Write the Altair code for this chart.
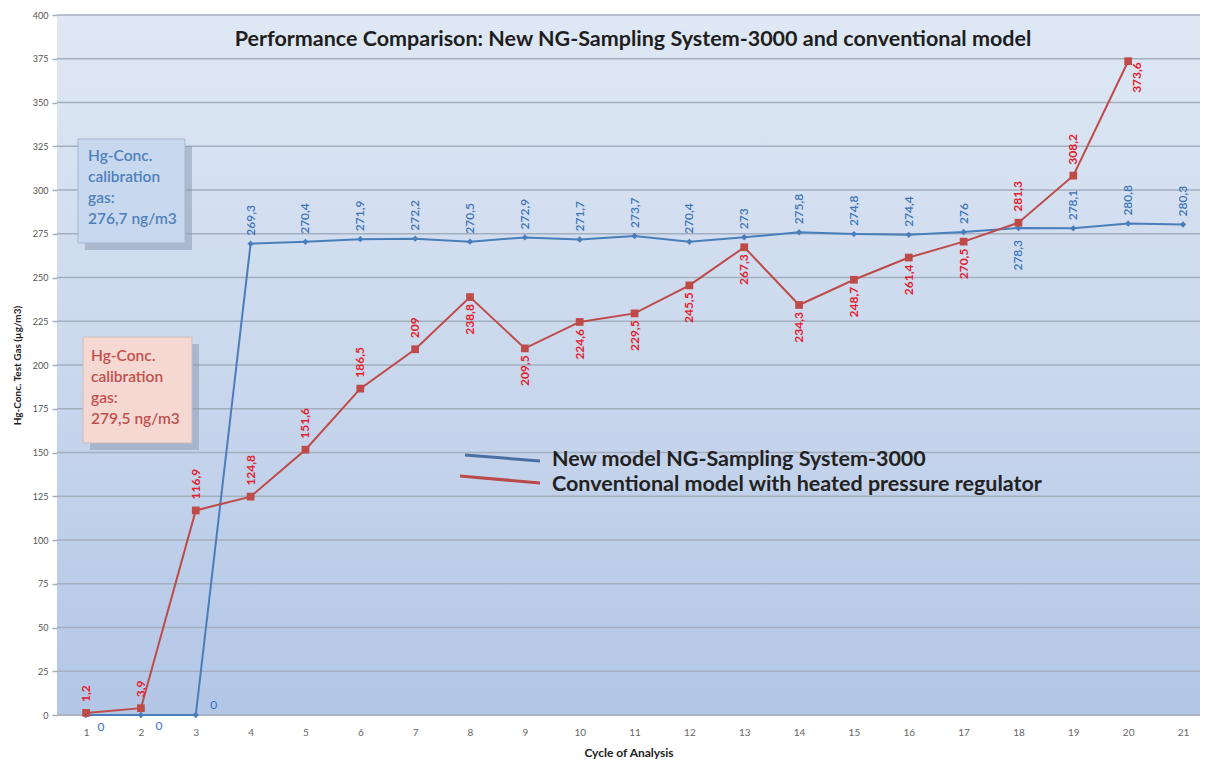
import altair as alt
import pandas as pd

cycles = list(range(1, 22))
new_model = [0, 0, 0, 269.3, 270.4, 271.9, 272.2, 270.5, 272.9, 271.7, 273.7,
             270.4, 273, 275.8, 274.8, 274.4, 276, 278.3, 278.1, 280.8, 280.3]
new_label_side = ["zero", "zero", "zero"] + ["above"] * 14 + ["below"] + ["above"] * 3

conv_cycles = list(range(1, 21))
conventional = [1.2, 3.9, 116.9, 124.8, 151.6, 186.5, 209, 238.8, 209.5, 224.6,
                229.5, 245.5, 267.3, 234.3, 248.7, 261.4, 270.5, 281.3, 308.2, 373.6]
conv_label_side = ["above"] * 7 + ["below"] * 10 + ["above"] * 2 + ["end"]

y_ticks = list(range(0, 401, 25))

title_text = "Performance Comparison: New NG-Sampling System-3000 and conventional model"
legend_new = "New model NG-Sampling System-3000"
legend_conv = "Conventional model with heated pressure regulator"
box_blue = "Hg-Conc.\ncalibration\ngas:\n276,7 ng/m3"
box_red = "Hg-Conc.\ncalibration\ngas:\n279,5 ng/m3"


def fmt(v):
    return f"{v:g}".replace(".", ",")


blue_df = pd.DataFrame({"cycle": cycles, "value": new_model,
                        "label": [fmt(v) for v in new_model], "side": new_label_side})
red_df = pd.DataFrame({"cycle": conv_cycles, "value": conventional,
                       "label": [fmt(v) for v in conventional], "side": conv_label_side})
grid_df = pd.DataFrame({"value": y_ticks})

W, H = 1143, 700
BLUE = "#4a7ebb"
RED = "#be4b48"
FONT = "Lato"

xs = alt.X("cycle:Q", scale=alt.Scale(domain=[0.47, 21.31], nice=False, zero=False),
           axis=alt.Axis(values=cycles, grid=False, ticks=False, title="Cycle of Analysis",
                         labelFontSize=10, labelColor="#666666", labelFont=FONT,
                         titleFont=FONT, titleFontSize=12, titleFontWeight="bold",
                         titleColor="#222222", titlePadding=10, labelPadding=12,
                         domainColor="#c5ccd8", domainWidth=1))
ys = alt.Y("value:Q", scale=alt.Scale(domain=[0, 400], nice=False),
           axis=alt.Axis(values=y_ticks, grid=False,
                         tickColor="#a3aebf", tickSize=5, tickWidth=1.5, domain=False,
                         labelFontSize=9, labelColor="#555555", labelFont=FONT,
                         title="Hg-Conc. Test Gas (µg/m3)", titleFont=FONT,
                         titleFontSize=10, titleFontWeight="bold", titleColor="#222222",
                         titlePadding=10, labelPadding=4))

one = pd.DataFrame({"k": [0]})
anno = alt.Chart(one)

bg = anno.mark_rect(
    fill=alt.Gradient(gradient="linear", x1=0, x2=0, y1=0, y2=1,
                      stops=[alt.GradientStop(color="#dfe8f4", offset=0),
                             alt.GradientStop(color="#cad8ed", offset=0.5),
                             alt.GradientStop(color="#b3c6e6", offset=1)])
).encode(x=alt.value(0), x2=alt.value(W), y=alt.value(0), y2=alt.value(H))

grid = alt.Chart(grid_df).mark_rule(color="#a3aebf", strokeWidth=1.5).encode(
    y=ys, x=alt.value(0), x2=alt.value(W))

blue_base = alt.Chart(blue_df)
red_base = alt.Chart(red_df)

blue_line = blue_base.mark_line(color=BLUE, strokeWidth=2).encode(x=xs, y="value:Q")
blue_pts = blue_base.mark_point(shape="diamond", filled=True, color=BLUE, size=40, opacity=1).encode(x="cycle:Q", y="value:Q")
red_line = red_base.mark_line(color=RED, strokeWidth=2).encode(x="cycle:Q", y="value:Q")
red_pts = red_base.mark_point(shape="square", filled=True, color=RED, size=60, opacity=1).encode(x="cycle:Q", y="value:Q")

blue_lab = dict(angle=270, baseline="middle", fontSize=12, fontWeight=600, font=FONT, color="#3c74b8")
red_lab = dict(angle=270, baseline="middle", fontSize=12, fontWeight="bold", font=FONT, color="#e3202b")
blue_above = blue_base.transform_filter("datum.side == 'above'").mark_text(
    align="left", dx=8, **blue_lab).encode(x="cycle:Q", y="value:Q", text="label:N")
blue_below = blue_base.transform_filter("datum.side == 'below'").mark_text(
    align="right", dx=-12, **blue_lab).encode(x="cycle:Q", y="value:Q", text="label:N")
red_above = red_base.transform_filter("datum.side == 'above'").mark_text(
    align="left", dx=11, **red_lab).encode(x="cycle:Q", y="value:Q", text="label:N")
red_below = red_base.transform_filter("datum.side == 'below'").mark_text(
    align="right", dx=-7, **red_lab).encode(x="cycle:Q", y="value:Q", text="label:N")
red_end = red_base.transform_filter("datum.side == 'end'").mark_text(
    align="right", dx=-1, dy=9, **red_lab).encode(x="cycle:Q", y="value:Q", text="label:N")

zero_common = dict(color="#3a6fc8", fontSize=12, font=FONT, align="center", baseline="middle")
zero1 = blue_base.transform_filter("datum.cycle == 1").mark_text(dx=15, dy=12, **zero_common).encode(
    x="cycle:Q", y="value:Q", text="label:N")
zero2 = blue_base.transform_filter("datum.cycle == 2").mark_text(dx=18, dy=11, **zero_common).encode(
    x="cycle:Q", y="value:Q", text="label:N")
zero3 = blue_base.transform_filter("datum.cycle == 3").mark_text(dx=18, dy=-10, **zero_common).encode(
    x="cycle:Q", y="value:Q", text="label:N")

title = anno.mark_text(text=title_text, font=FONT, fontSize=21.5, fontWeight="bold",
                       color="#1e1e1e", align="center", baseline="middle").encode(
    x=alt.value(576), y=alt.value(25))

# calibration boxes
blue_shadow = anno.mark_rect(fill="#8d9ab2", opacity=0.55).encode(
    x=alt.value(28), x2=alt.value(135), y=alt.value(131), y2=alt.value(235))
blue_box = anno.mark_rect(fill="#c8d8ee", stroke="#a5b6cf", strokeWidth=1).encode(
    x=alt.value(21), x2=alt.value(128), y=alt.value(124), y2=alt.value(228))
blue_txt = anno.mark_text(text=box_blue, lineBreak="\n", lineHeight=21, font=FONT, fontSize=15.5,
                          fontWeight=600, color="#4f81bd", align="left", baseline="top").encode(
    x=alt.value(31), y=alt.value(134))
red_shadow = anno.mark_rect(fill="#8d9ab2", opacity=0.55).encode(
    x=alt.value(33), x2=alt.value(142), y=alt.value(329), y2=alt.value(435))
red_box = anno.mark_rect(fill="#f6d8d2", stroke="#c9bcbc", strokeWidth=1).encode(
    x=alt.value(26), x2=alt.value(135), y=alt.value(322), y2=alt.value(428))
red_txt = anno.mark_text(text=box_red, lineBreak="\n", lineHeight=21, font=FONT, fontSize=15.5,
                         fontWeight=600, color="#c0504d", align="left", baseline="top").encode(
    x=alt.value(34), y=alt.value(334))

# legend
leg_blue = anno.mark_rule(color="#4a6fa5", strokeWidth=3).encode(
    x=alt.value(408), x2=alt.value(483), y=alt.value(440), y2=alt.value(446))
leg_red = anno.mark_rule(color="#b84a4a", strokeWidth=3).encode(
    x=alt.value(403), x2=alt.value(483), y=alt.value(461), y2=alt.value(468))
leg_txt1 = anno.mark_text(text=legend_new, font=FONT, fontSize=21.5, fontWeight="bold",
                          color="#222222", align="left", baseline="middle").encode(
    x=alt.value(495), y=alt.value(445))
leg_txt2 = anno.mark_text(text=legend_conv, font=FONT, fontSize=21.5, fontWeight="bold",
                          color="#222222", align="left", baseline="middle").encode(
    x=alt.value(495), y=alt.value(470))

chart = alt.layer(
    bg, grid,
    blue_line, red_line, blue_pts, red_pts,
    blue_above, blue_below, red_above, red_below, red_end,
    zero1, zero2, zero3,
    title,
    blue_shadow, blue_box, blue_txt, red_shadow, red_box, red_txt,
    leg_blue, leg_red, leg_txt1, leg_txt2,
).properties(
    width=W, height=H,
    autosize=alt.AutoSizeParams(type="none"),
    padding={"left": 49, "top": 7, "right": 0, "bottom": 44},
).configure_view(
    stroke=None,
).configure(background="white")

chart.save("out.html", embed_options={"renderer": "svg", "actions": False})
